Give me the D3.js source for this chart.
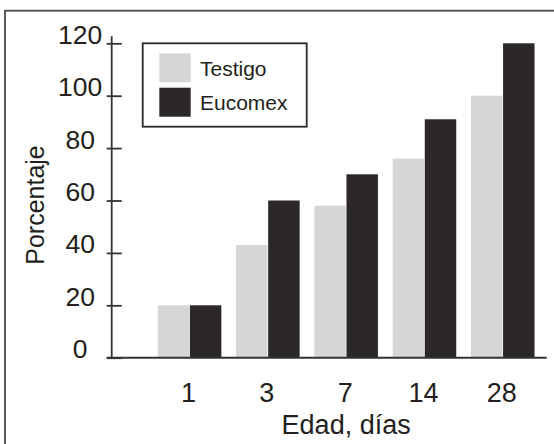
<!DOCTYPE html>
<html>
<head>
<meta charset="utf-8">
<script src="https://cdn.jsdelivr.net/npm/d3@7"></script>
<style>
  html, body { margin: 0; padding: 0; background: #fff; }
  svg { display: block; }
  text { font-family: "Liberation Sans", Arial, sans-serif; fill: #231f20; }
</style>
</head>
<body>
<svg id="chart" width="554" height="444"></svg>
<script>
const categories = ["1", "3", "7", "14", "28"];
const seriesNames = ["Testigo", "Eucomex"];
const testigo = [20, 43, 58, 76, 100];
const eucomex = [20, 60, 70, 91, 120];
const yTicks = [0, 20, 40, 60, 80, 100, 120];
const xTitle = "Edad, días";
const yTitle = "Porcentaje";
const colors = ["#d5d6d8", "#2c2829"];

const svg = d3.select("#chart");

// outer frame (extends beyond right/bottom edges)
svg.append("rect")
  .attr("x", 5).attr("y", 10.7)
  .attr("width", 600).attr("height", 500)
  .attr("fill", "none").attr("stroke", "#4a4a4a").attr("stroke-width", 1.8);

const axisX = 111.7;
const y = d3.scaleLinear().domain([0, 120]).range([357.7, 43.3]);
const x0 = d3.scaleBand().domain(categories).range([150.4, 541.9])
  .paddingInner(0.188).paddingOuter(0.094);
const x1 = d3.scaleBand().domain(seriesNames).range([0, x0.bandwidth()]).paddingInner(0.02);

const data = categories.map((c, i) => ({ cat: c, values: [testigo[i], eucomex[i]] }));

// bars
const groups = svg.append("g").selectAll("g").data(data).join("g")
  .attr("transform", d => `translate(${x0(d.cat)},0)`);
groups.selectAll("rect")
  .data(d => d.values.map((v, k) => ({ name: seriesNames[k], v, k })))
  .join("rect")
  .attr("x", d => x1(d.name))
  .attr("width", x1.bandwidth())
  .attr("y", d => y(d.v))
  .attr("height", d => y(0) - y(d.v))
  .attr("fill", d => colors[d.k]);

// y axis
const yAxis = d3.axisLeft(y).tickValues(yTicks).tickSize(5).tickFormat(d3.format("d"));
const gy = svg.append("g").attr("transform", `translate(${axisX},0)`).call(yAxis);
gy.select(".domain").remove();
gy.selectAll(".tick line").attr("x1", -5).attr("x2", 10)
  .attr("stroke", "#333").attr("stroke-width", 1.8);
gy.selectAll(".tick text")
  .attr("x", -31.5).attr("dy", 0).attr("text-anchor", "middle")
  .style("font-size", "26.5px").style("font-family", "'Liberation Sans', Arial, sans-serif")
  .attr("fill", "#231f20");
svg.append("line")
  .attr("x1", axisX).attr("x2", axisX)
  .attr("y1", y.range()[1] - 7).attr("y2", y.range()[0])
  .attr("stroke", "#333").attr("stroke-width", 1.8);

// x axis
svg.append("line")
  .attr("x1", axisX - 5).attr("x2", 546.7)
  .attr("y1", y(0)).attr("y2", y(0))
  .attr("stroke", "#333").attr("stroke-width", 2);
svg.append("g").selectAll("text").data(categories).join("text")
  .attr("x", d => x0(d) + x0.bandwidth() / 2 - 1)
  .attr("y", 401.7)
  .attr("text-anchor", "middle")
  .style("font-size", "27px")
  .text(d => d);

// titles
svg.append("text")
  .attr("x", (x0.range()[0] + x0.range()[1]) / 2)
  .attr("y", 434)
  .attr("text-anchor", "middle")
  .style("font-size", "27px")
  .text(xTitle);
svg.append("text")
  .attr("transform", "translate(43.5,205) rotate(-90)")
  .attr("text-anchor", "middle")
  .style("font-size", "25px")
  .text(yTitle);

// legend
const lg = svg.append("g");
lg.append("rect").attr("x", 142.7).attr("y", 43.3).attr("width", 164).attr("height", 83.4)
  .attr("fill", "#fff").attr("stroke", "#2b2b2b").attr("stroke-width", 1.8);
const items = lg.selectAll("g.item").data(seriesNames).join("g").attr("class", "item")
  .attr("transform", (d, i) => `translate(159.3,${53.3 + i * 34.4})`);
items.append("rect").attr("width", 31.4).attr("height", 29)
  .attr("fill", (d, i) => colors[i]);
items.append("text").attr("x", 40.7).attr("y", 22.7)
  .style("font-size", "21px").text(d => d);
</script>
</body>
</html>
